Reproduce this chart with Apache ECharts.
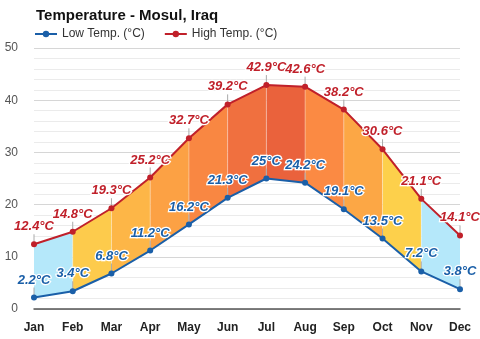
<!DOCTYPE html>
<html>
<head>
<meta charset="utf-8">
<script src="https://cdn.jsdelivr.net/npm/echarts@6/dist/echarts.min.js"></script>
<style>
  html, body { margin: 0; padding: 0; background: #fff; }
  #main { width: 480px; height: 339px; }
</style>
</head>
<body>
<div id="main"></div>
<script>
var months = ['Jan', 'Feb', 'Mar', 'Apr', 'May', 'Jun', 'Jul', 'Aug', 'Sep', 'Oct', 'Nov', 'Dec'];
var lowTemp = [2.2, 3.4, 6.8, 11.2, 16.2, 21.3, 25, 24.2, 19.1, 13.5, 7.2, 3.8];
var highTemp = [12.4, 14.8, 19.3, 25.2, 32.7, 39.2, 42.9, 42.6, 38.2, 30.6, 21.1, 14.1];

// fill colour of each band between two months
var bandColors = ['#b5e8fa', '#fdcb4c', '#fdb647', '#fca144', '#f98742', '#f0703f',
                  '#ea623c', '#fb8a43', '#fca745', '#fdd04b', '#b5e8fa'];

var chart = echarts.init(document.getElementById('main'));

var bands = [];
for (var i = 0; i < months.length - 1; i++) {
  bands.push([i, i + 1]);
}

function fmt(p) {
  return p.value + '°C';
}

var option = {
  animation: false,
  title: {
    text: 'Temperature - Mosul, Iraq',
    left: 31,
    top: 3,
    textStyle: { fontSize: 15, fontWeight: 'bold', color: '#111', fontFamily: 'Liberation Sans' }
  },
  legend: {
    left: 29,
    top: 23,
    itemWidth: 22,
    itemHeight: 8,
    itemGap: 19,
    textStyle: { fontSize: 12, color: '#333', fontFamily: 'Liberation Sans' },
    data: ['Low Temp. (°C)', 'High Temp. (°C)']
  },
  grid: { left: 34, right: 20, top: 48, bottom: 30 },
  xAxis: {
    type: 'category',
    data: months,
    boundaryGap: false,
    axisLine: { lineStyle: { color: '#555', width: 1.5 } },
    axisTick: { show: false },
    axisLabel: { color: '#222', fontWeight: 'bold', fontSize: 12, margin: 13, fontFamily: 'Liberation Sans' }
  },
  yAxis: {
    type: 'value',
    min: 0,
    max: 50,
    interval: 10,
    axisLabel: { color: '#555', fontSize: 12, margin: 16, fontFamily: 'Liberation Sans' },
    splitLine: { lineStyle: { color: '#d6d6d6', width: 1 } },
    minorTick: { show: false, splitNumber: 5 },
    minorSplitLine: { show: true, lineStyle: { color: '#ebebeb', width: 1 } }
  },
  series: [
    {
      type: 'custom',
      silent: true,
      z: 1,
      data: bands,
      renderItem: function (params, api) {
        var a = api.value(0), b = api.value(1);
        var p1 = api.coord([a, lowTemp[a]]);
        var p2 = api.coord([b, lowTemp[b]]);
        var p3 = api.coord([b, highTemp[b]]);
        var p4 = api.coord([a, highTemp[a]]);
        var children = [{
          type: 'polygon',
          shape: { points: [p1, p2, p3, p4] },
          style: { fill: bandColors[params.dataIndex] }
        }];
        if (params.dataIndex > 0) {
          children.push({
            type: 'line',
            shape: { x1: p1[0], y1: p1[1], x2: p4[0], y2: p4[1] },
            style: { stroke: 'rgba(255,255,255,0.35)', lineWidth: 1 }
          });
        }
        return { type: 'group', children: children };
      }
    },
    {
      // leader lines from points up to labels
      type: 'custom',
      silent: true,
      z: 2,
      data: months.map(function (m, i) { return [i]; }),
      renderItem: function (params, api) {
        var i = api.value(0);
        var lo = api.coord([i, lowTemp[i]]);
        var hi = api.coord([i, highTemp[i]]);
        var st = { stroke: '#aaa', lineWidth: 1 };
        return {
          type: 'group',
          children: [
            { type: 'line', shape: { x1: lo[0], y1: lo[1], x2: lo[0], y2: lo[1] - 10 }, style: st },
            { type: 'line', shape: { x1: hi[0], y1: hi[1], x2: hi[0], y2: hi[1] - 10 }, style: st }
          ]
        };
      }
    },
    {
      name: 'Low Temp. (°C)',
      type: 'line',
      z: 3,
      data: lowTemp,
      symbol: 'circle',
      symbolSize: 6,
      color: '#1a5fa8',
      lineStyle: { width: 2, color: '#1a5fa8' },
      itemStyle: { color: '#1a5fa8' },
      label: {
        show: true,
        position: 'top',
        distance: 8,
        formatter: fmt,
        color: '#1a5fa8',
        fontStyle: 'italic',
        fontWeight: 'bold',
        fontSize: 13,
        fontFamily: 'Liberation Sans',
        textBorderColor: '#fff',
        textBorderWidth: 2.5
      }
    },
    {
      name: 'High Temp. (°C)',
      type: 'line',
      z: 3,
      data: highTemp,
      symbol: 'circle',
      symbolSize: 6,
      color: '#c0202a',
      lineStyle: { width: 2, color: '#c0202a' },
      itemStyle: { color: '#c0202a' },
      label: {
        show: true,
        position: 'top',
        distance: 8,
        formatter: fmt,
        color: '#c0202a',
        fontStyle: 'italic',
        fontWeight: 'bold',
        fontSize: 13,
        fontFamily: 'Liberation Sans',
        textBorderColor: '#fff',
        textBorderWidth: 2.5
      }
    }
  ]
};

chart.setOption(option);
</script>
</body>
</html>
